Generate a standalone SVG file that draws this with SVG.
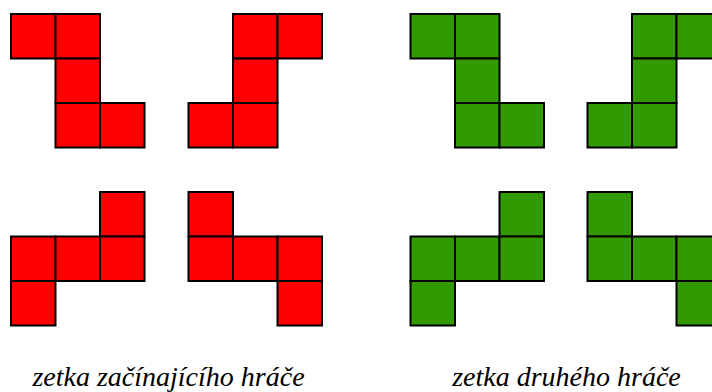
<svg xmlns="http://www.w3.org/2000/svg" xmlns:xlink="http://www.w3.org/1999/xlink" width="712" height="392" viewBox="0 0 712 392">
  <style>
    .red { fill: #ff0000; }
    .green { fill: #339900; }
    .cell { stroke: #000000; stroke-width: 2; }
    .label { font-family: "Liberation Serif", "DejaVu Serif", serif; font-style: italic; font-size: 28px; fill: #000000; text-anchor: middle; }
  </style>
  <defs>
    <!-- one square of a piece -->
    <rect id="sq" class="cell" width="44.5" height="44.5"/>
  </defs>
  <rect width="712" height="392" fill="#ffffff"/>

  <!-- first player's pieces (red) -->
  <g id="red-z" class="red" transform="translate(11,14)">
    <use xlink:href="#sq" x="0" y="0"/>
    <use xlink:href="#sq" x="44.5" y="0"/>
    <use xlink:href="#sq" x="44.5" y="44.5"/>
    <use xlink:href="#sq" x="44.5" y="89"/>
    <use xlink:href="#sq" x="89" y="89"/>
  </g>
  <g id="red-s" class="red" transform="translate(188.5,14)">
    <use xlink:href="#sq" x="44.5" y="0"/>
    <use xlink:href="#sq" x="89" y="0"/>
    <use xlink:href="#sq" x="44.5" y="44.5"/>
    <use xlink:href="#sq" x="0" y="89"/>
    <use xlink:href="#sq" x="44.5" y="89"/>
  </g>
  <g id="red-z-rot" class="red" transform="translate(11,192)">
    <use xlink:href="#sq" x="89" y="0"/>
    <use xlink:href="#sq" x="0" y="44.5"/>
    <use xlink:href="#sq" x="44.5" y="44.5"/>
    <use xlink:href="#sq" x="89" y="44.5"/>
    <use xlink:href="#sq" x="0" y="89"/>
  </g>
  <g id="red-s-rot" class="red" transform="translate(188.5,192)">
    <use xlink:href="#sq" x="0" y="0"/>
    <use xlink:href="#sq" x="0" y="44.5"/>
    <use xlink:href="#sq" x="44.5" y="44.5"/>
    <use xlink:href="#sq" x="89" y="44.5"/>
    <use xlink:href="#sq" x="89" y="89"/>
  </g>

  <!-- second player's pieces (green) -->
  <g id="green-z" class="green" transform="translate(410.5,14)">
    <use xlink:href="#sq" x="0" y="0"/>
    <use xlink:href="#sq" x="44.5" y="0"/>
    <use xlink:href="#sq" x="44.5" y="44.5"/>
    <use xlink:href="#sq" x="44.5" y="89"/>
    <use xlink:href="#sq" x="89" y="89"/>
  </g>
  <g id="green-s" class="green" transform="translate(587.5,14)">
    <use xlink:href="#sq" x="44.5" y="0"/>
    <use xlink:href="#sq" x="89" y="0"/>
    <use xlink:href="#sq" x="44.5" y="44.5"/>
    <use xlink:href="#sq" x="0" y="89"/>
    <use xlink:href="#sq" x="44.5" y="89"/>
  </g>
  <g id="green-z-rot" class="green" transform="translate(410.5,192)">
    <use xlink:href="#sq" x="89" y="0"/>
    <use xlink:href="#sq" x="0" y="44.5"/>
    <use xlink:href="#sq" x="44.5" y="44.5"/>
    <use xlink:href="#sq" x="89" y="44.5"/>
    <use xlink:href="#sq" x="0" y="89"/>
  </g>
  <g id="green-s-rot" class="green" transform="translate(587.5,192)">
    <use xlink:href="#sq" x="0" y="0"/>
    <use xlink:href="#sq" x="0" y="44.5"/>
    <use xlink:href="#sq" x="44.5" y="44.5"/>
    <use xlink:href="#sq" x="89" y="44.5"/>
    <use xlink:href="#sq" x="89" y="89"/>
  </g>

  <!-- captions -->
  <text id="caption-first" class="label" x="168.5" y="386">zetka začínajícího hráče</text>
  <text id="caption-second" class="label" x="566.5" y="386">zetka druhého hráče</text>
</svg>
